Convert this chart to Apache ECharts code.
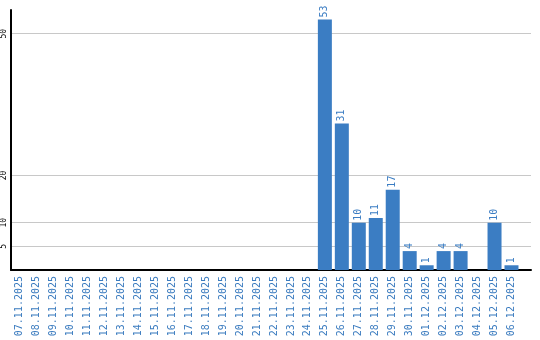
<!DOCTYPE html>
<html><head><meta charset="utf-8">
<script src="https://cdn.jsdelivr.net/npm/echarts@6/dist/echarts.min.js"></script>
<style>html,body{margin:0;padding:0;background:#fff}#c{width:540px;height:340px}</style>
</head><body><div id="c"></div>
<script>
const dates = ['07.11.2025','08.11.2025','09.11.2025','10.11.2025','11.11.2025','12.11.2025','13.11.2025','14.11.2025','15.11.2025','16.11.2025','17.11.2025','18.11.2025','19.11.2025','20.11.2025','21.11.2025','22.11.2025','23.11.2025','24.11.2025','25.11.2025','26.11.2025','27.11.2025','28.11.2025','29.11.2025','30.11.2025','01.12.2025','02.12.2025','03.12.2025','04.12.2025','05.12.2025','06.12.2025'];
const values = [0,0,0,0,0,0,0,0,0,0,0,0,0,0,0,0,0,0,53,31,10,11,17,4,1,4,4,0,10,1];
const yTicks = [5,10,20,50];

const idx = dates.map((d,i)=>i);
const pairs = values.map((v,i)=>[i,v]);
const blue = '#3b7dc3';
const chart = echarts.init(document.getElementById('c'));
chart.setOption({
  animation:false,
  grid:{left:10,right:9,top:10,bottom:70,containLabel:false},
  xAxis:{type:'value',min:-0.5,max:30.15,
    axisLine:{show:true,onZero:false,lineStyle:{color:'#000',width:2}},
    axisTick:{show:false},splitLine:{show:false},
    axisLabel:{customValues:idx,showMinLabel:true,showMaxLabel:true,formatter:v=>dates[Math.round(v)]||'',rotate:90,color:'#3a7bbf',fontFamily:'DejaVu Sans Mono',fontSize:10,margin:6}},
  yAxis:{type:'value',min:0,max:55,
    axisLine:{show:true,onZero:false,lineStyle:{color:'#000',width:2}},
    axisTick:{show:false,customValues:yTicks},
    splitLine:{show:true,lineStyle:{color:'#c8c8c8',width:1}},
    axisLabel:{customValues:yTicks,rotate:90,color:'#000',fontFamily:'DejaVu Sans Mono',fontSize:8,margin:3}},
  series:[{type:'bar',data:pairs,barWidth:14,itemStyle:{color:blue},
    label:{show:true,position:'top',rotate:90,align:'left',verticalAlign:'middle',distance:2,
      formatter:p=>p.value[1]?String(p.value[1]):'',color:blue,fontFamily:'DejaVu Sans Mono',fontSize:10}}]
});
</script></body></html>
